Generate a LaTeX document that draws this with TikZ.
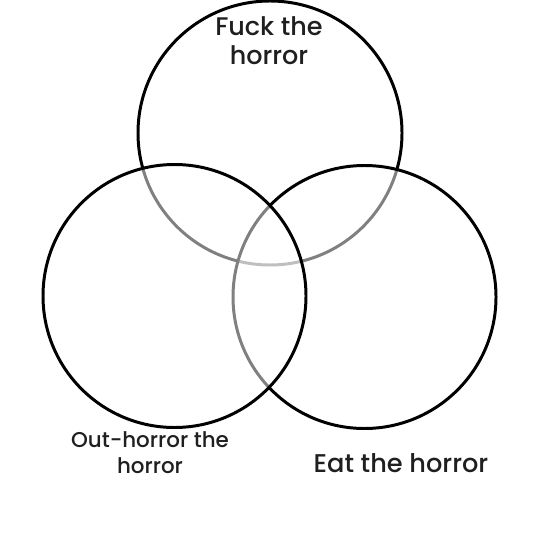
\documentclass[tikz,border=0pt]{standalone}
\usepackage{fontspec}
\setmainfont{Poppins Medium}
\begin{document}
\begin{tikzpicture}[x=0.02cm, y=-0.02cm, every node/.style={text=black!88}]

	% Fix the size of the picture
	\useasboundingbox (0,0) rectangle (540,540);

	% Define styles for the circles and the labels
	\tikzset{
		venn circle/.style={draw=black, line width=1.7pt, fill=white, fill opacity=0.5},
		venn label/.style={anchor=base, align=center, inner sep=0pt}
	};

	% Circle 1 (top): drawn first, the others lie over it
	\draw[venn circle] (270,133) circle (132);

	% Circle 2 (right)
	\draw[venn circle] (364.5,297) circle (131.5);

	% Circle 3 (left): drawn last, fully black
	\draw[venn circle] (174.5,296) circle (131.5);

	% Labels (base = baseline of the last line)
	\node[venn label, font=\fontsize{14.5}{17}\selectfont] (fuck) at (269,65) {Fuck the\\horror};
	\node[venn label, font=\fontsize{12.2}{14.7}\selectfont] (outhorror) at (150,473) {Out-horror the\\horror};
	\node[venn label, font=\fontsize{14.6}{16}\selectfont] (eat) at (401,472) {Eat the horror};
\end{tikzpicture}
\end{document}
